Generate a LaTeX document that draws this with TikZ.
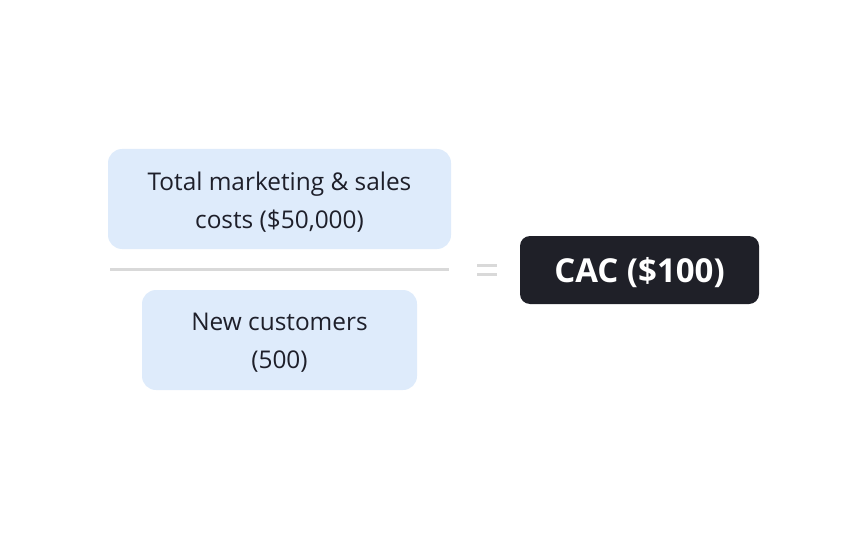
\documentclass[tikz,border=0pt]{standalone}
\usepackage{fontspec}
\setmainfont{Open Sans}
\definecolor{paleblue}{RGB}{222,235,251}
\definecolor{inkdark}{RGB}{31,32,40}
\definecolor{textdark}{RGB}{30,31,42}
\definecolor{rulegray}{RGB}{217,217,217}
\tikzset{
  termbox/.style={fill=paleblue,rounded corners=14pt,minimum height=100pt,inner sep=0pt},
  termtext/.style={align=center,text=textdark,font=\fontsize{24.4}{38}\selectfont,inner sep=0pt},
  resultbox/.style={fill=inkdark,rounded corners=10pt,minimum width=239pt,minimum height=68pt,inner sep=0pt},
  resulttext/.style={text=white,font=\fontsize{33}{36}\selectfont\bfseries,inner sep=0pt},
  barline/.style={rulegray,line width=3pt}
}
\begin{document}
\begin{tikzpicture}[x=1pt,y=-1pt]
\useasboundingbox (0,0) rectangle (864,540);

%% fraction
% numerator and denominator
\node [termbox,minimum width=343pt] (cost) at (279.5,199) {};
\node [termtext] (costtext) at ([yshift=-3pt]cost.center) {Total marketing \& sales\\ costs (\$50,000)};
\node [termbox,minimum width=275pt] (cust) at (279.5,340) {};
\node [termtext] (custtext) at ([yshift=-3pt]cust.center) {New customers\\ (500)};
% bar
\coordinate (barl) at (110,269.75);
\coordinate (barr) at (449,269.75);
\draw [barline] (barl) -- (barr);

%% result
\coordinate (eq) at (487,270);
\draw [barline] (eq) +(-10,-4.5) -- +(10,-4.5);
\draw [barline] (eq) +(-10,4.5) -- +(10,4.5);
\node [resultbox] (cac) at (639.5,270) {};
\node [resulttext] (cactext) at ([yshift=-3pt]cac.center) {CAC (\$100)};

\end{tikzpicture}
\end{document}
